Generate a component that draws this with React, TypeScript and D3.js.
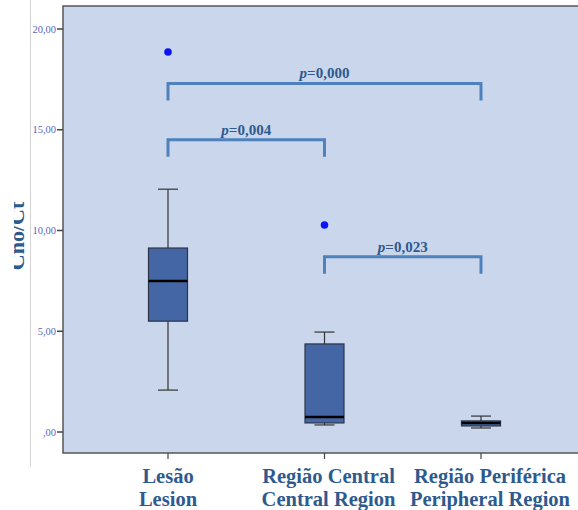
import { useEffect, useRef } from 'react';
import * as d3 from 'd3';

// Cno/Ct by region
const categories = ['Lesão', 'Região Central', 'Região Periférica'];
const categoriesEn = ['Lesion', 'Central Region', 'Peripheral Region'];
const whiskerLow = [2.08, 0.35, 0.2];
const q1 = [5.5, 0.45, 0.3];
const median = [7.49, 0.74, 0.45];
const q3 = [9.13, 4.37, 0.55];
const whiskerHigh = [12.05, 4.96, 0.79];
const outliers: [number, number][] = [[0, 18.86], [1, 10.27]];
const yTicks = [0, 5, 10, 15, 20];
const yTickLabels = [',00', '5,00', '10,00', '15,00', '20,00'];
const comparisons: { from: number; to: number; level: number; label: string }[] = [
  { from: 0, to: 2, level: 17.3, label: '0,000' },
  { from: 0, to: 1, level: 14.5, label: '0,004' },
  { from: 1, to: 2, level: 8.7, label: '0,023' },
];

const W = 578, H = 510;
const SERIF = "'Times New Roman', Times, 'Liberation Serif', 'DejaVu Serif', 'Noto Serif', serif";

export default function App() {
  const svgRef = useRef<SVGSVGElement>(null);

  useEffect(() => {
    if (!svgRef.current) return;
    const svg = d3.select(svgRef.current);
    svg.selectAll('*').remove();

    const PL = 63, PT = 6, PB = 453, PR = 590;
    const y = d3.scaleLinear().domain([0, 20]).range([432, 29]);
    const x = d3.scalePoint<number>().domain([0, 1, 2]).range([168, 481]);
    const BW = 39;
    const labelShift = [0, 4, 9]; // source labels sit a bit right of their ticks

    // thin page line
    svg.append('line').attr('x1', 30.5).attr('x2', 30.5).attr('y1', 0).attr('y2', 467)
      .attr('stroke', '#d4d4d4').attr('stroke-width', 1);

    // y title (clipped like the source)
    const defs = svg.append('defs');
    defs.append('clipPath').attr('id', 'ytclip').append('rect')
      .attr('x', 14).attr('y', 0).attr('width', 20).attr('height', H);
    svg.append('g').attr('clip-path', 'url(#ytclip)')
      .append('text')
      .attr('transform', 'translate(24,236) rotate(-90)')
      .attr('text-anchor', 'middle').style('font-family', SERIF).attr('font-weight', 'bold')
      .attr('font-size', 22).attr('fill', '#2e5a8e').text('Cno/Ct');

    // plot background
    svg.append('rect').attr('x', PL).attr('y', PT).attr('width', PR - PL).attr('height', PB - PT)
      .attr('fill', '#cad6eb').attr('stroke', '#555').attr('stroke-width', 1.5);

    // y axis ticks
    yTicks.forEach((t, i) => {
      svg.append('line').attr('x1', PL - 6).attr('x2', PL).attr('y1', y(t)).attr('y2', y(t))
        .attr('stroke', '#444').attr('stroke-width', 1.5);
      svg.append('text').attr('x', PL - 7).attr('y', y(t) + 3.5)
        .attr('text-anchor', 'end').style('font-family', SERIF).attr('font-size', 10.5)
        .attr('fill', '#5866c4').text(yTickLabels[i]);
    });

    // x ticks + labels
    categories.forEach((c, i) => {
      svg.append('line').attr('x1', x(i)!).attr('x2', x(i)!).attr('y1', PB).attr('y2', PB + 6)
        .attr('stroke', '#444').attr('stroke-width', 1.2);
      const lx = x(i)! + labelShift[i];
      const tx = svg.append('text').attr('text-anchor', 'middle').style('font-family', SERIF)
        .attr('font-weight', 'bold').attr('font-size', 20.5).attr('fill', '#2e5a8e');
      tx.append('tspan').attr('x', lx).attr('y', 483).text(c);
      tx.append('tspan').attr('x', lx).attr('y', 506).text(categoriesEn[i]);
    });

    // boxes
    categories.forEach((_, i) => {
      const cx = x(i)!;
      const g = svg.append('g');
      g.append('line').attr('x1', cx).attr('x2', cx).attr('y1', y(whiskerLow[i])).attr('y2', y(whiskerHigh[i]))
        .attr('stroke', '#333').attr('stroke-width', 1.2);
      [whiskerLow[i], whiskerHigh[i]].forEach(v => {
        g.append('line').attr('x1', cx - 10).attr('x2', cx + 10).attr('y1', y(v)).attr('y2', y(v))
          .attr('stroke', '#333').attr('stroke-width', 1.2);
      });
      g.append('rect').attr('x', cx - BW / 2).attr('y', y(q3[i]))
        .attr('width', BW).attr('height', y(q1[i]) - y(q3[i]))
        .attr('fill', '#4466a4').attr('stroke', '#2b3447').attr('stroke-width', 1.2);
      g.append('line').attr('x1', cx - BW / 2).attr('x2', cx + BW / 2)
        .attr('y1', y(median[i])).attr('y2', y(median[i]))
        .attr('stroke', '#000').attr('stroke-width', 2.5);
    });

    // outliers
    svg.selectAll('circle.out').data(outliers).join('circle').attr('class', 'out')
      .attr('cx', d => x(d[0])!).attr('cy', d => y(d[1])).attr('r', 3.8).attr('fill', '#0a14f5');

    // comparison brackets
    comparisons.forEach(c => {
      const x1 = x(c.from)!, x2 = x(c.to)!, yl = y(c.level);
      svg.append('path')
        .attr('d', `M${x1},${yl + 17}V${yl}H${x2}V${yl + 17}`)
        .attr('fill', 'none').attr('stroke', '#4f81bd').attr('stroke-width', 3);
      const t = svg.append('text').attr('x', (x1 + x2) / 2).attr('y', yl - 5)
        .attr('text-anchor', 'middle').style('font-family', SERIF).attr('font-weight', 'bold')
        .attr('font-size', 15).attr('fill', '#2e5a8e');
      t.append('tspan').attr('font-style', 'italic').text('p');
      t.append('tspan').text('=' + c.label);
    });
  }, []);

  return (
    <div style={{ position: 'absolute', left: 0, top: 0, width: W, height: H, background: '#fff' }}>
      <svg ref={svgRef} width={W} height={H} style={{ display: 'block' }} />
    </div>
  );
}
